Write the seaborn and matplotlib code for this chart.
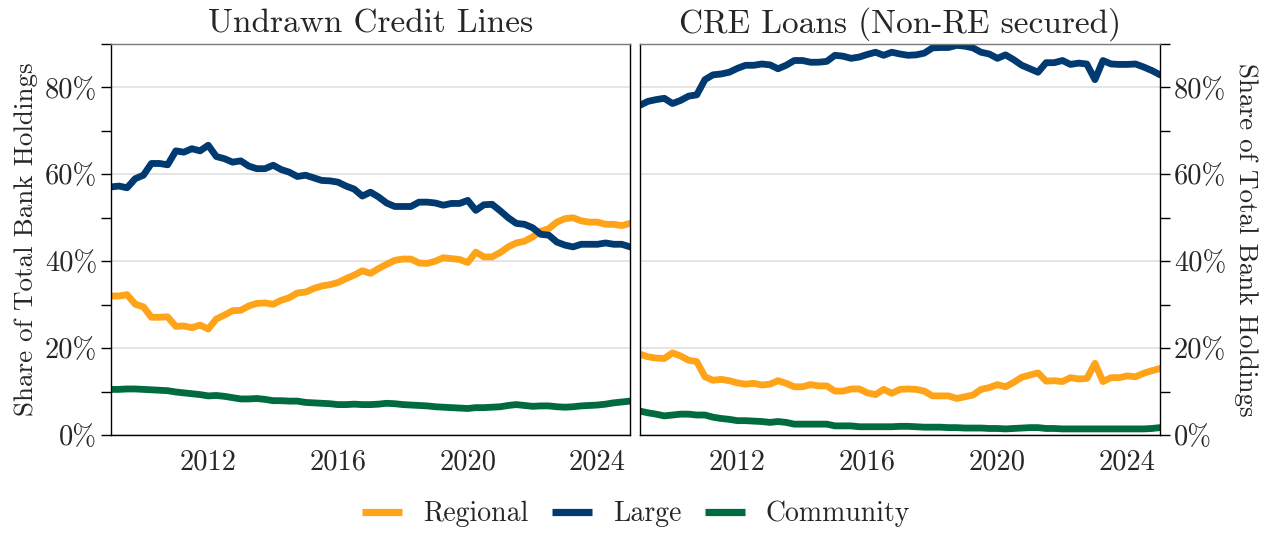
import numpy as np
import pandas as pd
import matplotlib
matplotlib.use("Agg")
import matplotlib.pyplot as plt
import matplotlib.dates as mdates
from matplotlib.ticker import MultipleLocator, PercentFormatter
import seaborn as sns

# Quarterly observations, 2009Q1 through 2025Q1
quarters = pd.date_range("2009-01-01", "2025-01-01", freq="QS")

panel_titles = ["Undrawn Credit Lines", "CRE Loans (Non-RE secured)"]
bank_types = ["Regional", "Large", "Community"]
bank_colors = ["#FFA319", "#003A70", "#006B3F"]

# Share of total bank holdings (%), undrawn credit lines
credit_regional = [
    32.0, 32.0, 32.3, 30.1, 29.5, 27.1, 27.1, 27.2,
    25.0, 25.1, 24.7, 25.3, 24.4, 26.7, 27.6, 28.6,
    28.7, 29.7, 30.3, 30.4, 30.1, 31.0, 31.6, 32.7,
    32.9, 33.7, 34.3, 34.6, 35.1, 36.0, 36.8, 37.8,
    37.2, 38.3, 39.3, 40.2, 40.5, 40.5, 39.6, 39.5,
    40.0, 40.8, 40.6, 40.4, 39.7, 42.1, 41.0, 41.0,
    42.0, 43.3, 44.2, 44.6, 45.6, 46.9, 47.5, 49.0,
    49.8, 50.0, 49.3, 49.0, 49.0, 48.5, 48.5, 48.2,
    48.7,
]
credit_large = [
    57.1, 57.3, 56.9, 59.0, 59.8, 62.5, 62.5, 62.2,
    65.4, 65.1, 65.9, 65.4, 66.7, 64.1, 63.6, 62.8,
    63.1, 61.9, 61.3, 61.3, 62.1, 61.1, 60.5, 59.5,
    59.8, 59.2, 58.6, 58.5, 58.2, 57.3, 56.6, 55.0,
    55.9, 54.8, 53.4, 52.6, 52.6, 52.6, 53.6, 53.6,
    53.4, 52.9, 53.3, 53.3, 54.0, 51.7, 53.0, 53.1,
    51.6, 50.0, 48.7, 48.5, 47.7, 46.2, 46.0, 44.4,
    43.7, 43.3, 43.9, 43.9, 43.9, 44.2, 43.9, 43.9,
    43.3,
]
credit_community = [
    10.5, 10.5, 10.6, 10.6, 10.5, 10.4, 10.3, 10.2,
    9.9, 9.7, 9.5, 9.3, 9.0, 9.1, 8.9, 8.6,
    8.3, 8.3, 8.4, 8.2, 7.9, 7.9, 7.8, 7.8,
    7.5, 7.4, 7.3, 7.2, 7.0, 7.0, 7.1, 7.0,
    7.0, 7.1, 7.3, 7.2, 7.0, 6.9, 6.8, 6.7,
    6.5, 6.4, 6.3, 6.2, 6.1, 6.3, 6.3, 6.4,
    6.5, 6.8, 7.0, 6.8, 6.6, 6.7, 6.7, 6.5,
    6.4, 6.5, 6.7, 6.8, 6.9, 7.1, 7.4, 7.6,
    7.8,
]

# Share of total bank holdings (%), CRE loans not secured by real estate
cre_regional = [
    18.6, 18.0, 17.7, 17.6, 18.9, 18.2, 17.2, 16.9,
    13.4, 12.6, 12.8, 12.5, 12.0, 11.7, 11.9, 11.5,
    11.7, 12.5, 11.9, 11.1, 11.1, 11.6, 11.3, 11.3,
    10.1, 10.1, 10.6, 10.6, 9.7, 9.3, 10.5, 9.6,
    10.5, 10.6, 10.5, 10.1, 9.0, 9.0, 9.0, 8.4,
    8.8, 9.2, 10.5, 10.9, 11.6, 11.1, 12.1, 13.3,
    13.8, 14.3, 12.4, 12.5, 12.3, 13.2, 12.9, 13.0,
    16.5, 12.3, 13.2, 13.2, 13.6, 13.4, 14.2, 14.8,
    15.3,
]
cre_large = [
    75.9, 76.8, 77.2, 77.5, 76.3, 77.0, 78.0, 78.3,
    81.8, 82.9, 83.1, 83.5, 84.4, 85.1, 85.1, 85.4,
    85.2, 84.3, 85.1, 86.2, 86.2, 85.8, 85.8, 86.0,
    87.4, 87.2, 86.7, 87.0, 87.6, 88.1, 87.4, 88.1,
    87.7, 87.4, 87.5, 87.9, 89.1, 89.2, 89.2, 89.7,
    89.5, 89.1, 88.1, 87.7, 86.7, 87.5, 86.4, 85.1,
    84.3, 83.5, 85.7, 85.7, 86.2, 85.3, 85.6, 85.4,
    81.8, 86.2, 85.4, 85.3, 85.3, 85.4, 84.7, 83.9,
    82.9,
]
cre_community = [
    5.5, 5.1, 4.8, 4.4, 4.6, 4.8, 4.8, 4.6,
    4.6, 4.1, 3.8, 3.6, 3.3, 3.3, 3.2, 3.1,
    2.9, 3.1, 2.9, 2.5, 2.5, 2.5, 2.5, 2.5,
    2.1, 2.1, 2.1, 1.9, 1.9, 1.9, 1.9, 1.9,
    2.0, 2.0, 1.9, 1.8, 1.8, 1.8, 1.7, 1.7,
    1.6, 1.6, 1.6, 1.5, 1.5, 1.4, 1.5, 1.6,
    1.7, 1.7, 1.5, 1.5, 1.4, 1.4, 1.4, 1.4,
    1.4, 1.4, 1.4, 1.4, 1.4, 1.4, 1.4, 1.5,
    1.7,
]

panels = [
    {"Regional": credit_regional, "Large": credit_large, "Community": credit_community},
    {"Regional": cre_regional, "Large": cre_large, "Community": cre_community},
]

sns.set_style("white")
plt.rcParams["font.family"] = ["cmr10", "DejaVu Serif"]
plt.rcParams["mathtext.fontset"] = "cm"
plt.rcParams["axes.formatter.use_mathtext"] = True
plt.rcParams["axes.unicode_minus"] = False

fig = plt.figure(figsize=(12.72, 5.33), dpi=100)
W, H = 1272, 533
bottom, top = 435, 44
ax_left = fig.add_axes([111 / W, 1 - bottom / H, (630 - 111) / W, (bottom - top) / H])
ax_right = fig.add_axes([640 / W, 1 - bottom / H, (1160 - 640) / W, (bottom - top) / H])
axes = [ax_left, ax_right]

palette = dict(zip(bank_types, bank_colors))

for i, (ax, title, series) in enumerate(zip(axes, panel_titles, panels)):
    df = pd.DataFrame({"date": quarters, **series}).melt(
        id_vars="date", var_name="Bank", value_name="share")
    sns.lineplot(data=df, x="date", y="share", hue="Bank", hue_order=bank_types,
                 palette=palette, linewidth=4.9, ax=ax, legend=(i == 0))
    ax.set_title(title, fontsize=24, pad=8)
    ax.set_xlim(quarters[0], quarters[-1])
    ax.set_ylim(0, 90)
    ax.set_xlabel("")

    ax.xaxis.set_major_locator(mdates.YearLocator(4))
    ax.xaxis.set_major_formatter(mdates.DateFormatter("%Y"))
    ax.xaxis.set_minor_locator(mdates.YearLocator(1))
    ax.yaxis.set_major_locator(MultipleLocator(20))
    ax.yaxis.set_minor_locator(MultipleLocator(10))
    ax.yaxis.set_major_formatter(PercentFormatter(decimals=0))

    ax.grid(axis="y", which="major", color="#e3e3e3", linewidth=1.3)
    ax.grid(axis="x", visible=False)
    ax.tick_params(axis="both", which="both", direction="out", length=7,
                   width=1.0, color="black", labelsize=20.5, pad=3)

    for name, sp in ax.spines.items():
        sp.set_visible(True)
        sp.set_linewidth(1.0)
        sp.set_color("black")
    ax.spines["top"].set_color("#7a7a7a")

ax_left.set_ylabel("Share of Total Bank Holdings", fontsize=19.5, labelpad=5)
ax_left.tick_params(axis="y", which="both", left=True, right=False)

ax_right.yaxis.tick_right()
ax_right.yaxis.set_label_position("right")
ax_right.tick_params(axis="y", which="both", left=False, right=True)
ax_right.set_ylabel("Share of Total Bank Holdings", fontsize=19.5, rotation=270,
                    labelpad=23)

handles, labels = ax_left.get_legend_handles_labels()
ax_left.get_legend().remove()
for h in handles:
    h.set_linewidth(5.2)
    h.set_solid_capstyle("butt")
fig.legend(handles, labels, loc="center", bbox_to_anchor=(0.5, 1 - 514 / H),
           ncol=3, frameon=False, fontsize=20, handlelength=1.45,
           columnspacing=0.85, handletextpad=0.75)

fig.savefig("out.png", dpi=100)
